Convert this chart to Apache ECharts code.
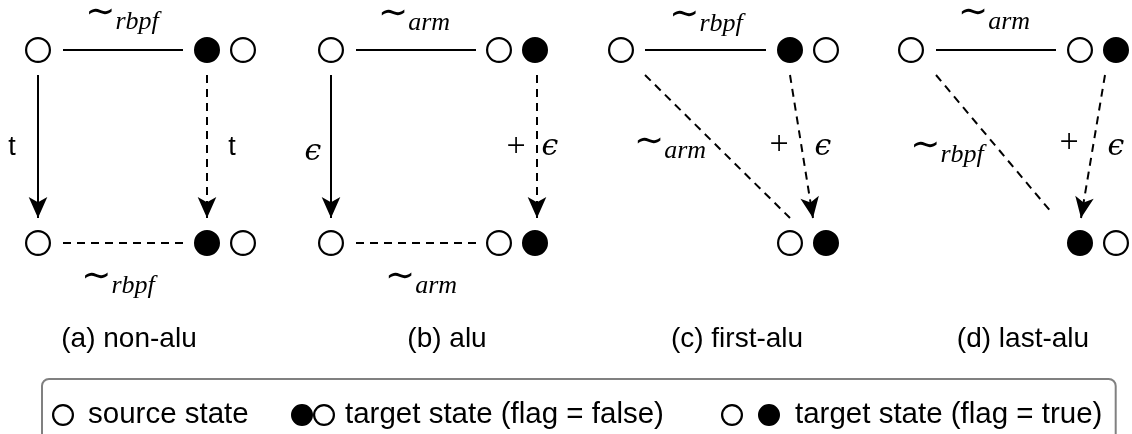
<!DOCTYPE html>
<html><head><meta charset="utf-8">
<script src="https://cdn.jsdelivr.net/npm/echarts@6/dist/echarts.min.js"></script>
<style>html,body{margin:0;padding:0;background:#fff}#c{width:1132px;height:434px}</style>
</head><body><div id="c"></div>
<script>
// ---- data (diagram coordinates) ----
const sourceStates = [[38,50],[38,243],[331,50],[331,243],[621,50],[911,50]];
const targetFalse  = [[207,50],[207,243],[790,50],[1080,243]];   // ● ○ (left circle)
const targetTrue   = [[499,50],[499,243],[790,243],[1080,50]];   // ○ ● (left circle)
const solidEdges   = [[[63,50],[183,50]],[[356,50],[476,50]],[[645,50],[766,50]],[[936,50],[1056,50]]];
const dashedEdges  = [[[63,243],[183,243]],[[356,243],[476,243]],[[645,75],[790,218]],[[936,75],[1052,213]]];
const solidArrows  = [[[38,75],[38,218]],[[331,75],[331,218]]];
const dashedArrows = [[[207,75],[207,218]],[[537,75],[537,218]],[[790,75],[813,218]],[[1105,75],[1081,218]]];
const relLabels    = [[122,21,'rbpf'],[118,285,'rbpf'],[414,22,'arm'],[421,285,'arm'],[706,23,'rbpf'],[670,150,'arm'],[994,21,'arm'],[947,154,'rbpf']];
const plainLabels  = [[12,148,'t'],[232,148,'t']];
const plusLabels   = [[516,147,'+'],[779,145,'+'],[1069,143,'+']];
const epsLabels    = [[313,152,'ϵ'],[550,147,'ϵ'],[823,147,'ϵ'],[1116,147,'ϵ']];
const captions     = [[129,339,'(a) non-alu'],[447,339,'(b) alu'],[737,339,'(c) first-alu'],[1023,339,'(d) last-alu']];
const legendNames  = ['source state','target state (flag = false)','target state (flag = true)'];

// ---- symbol shapes ----
function disk(cx, r){ return `M${cx-r},${r}A${r},${r},0,1,1,${cx+r},${r}A${r},${r},0,1,1,${cx-r},${r}Z`; }
function ring(cx, r, w){ const q=r-w; return disk(cx,r)+`M${cx-q},${r}A${q},${q},0,1,0,${cx+q},${r}A${q},${q},0,1,0,${cx-q},${r}Z`; }
const R=13, W=2.2, GAP=36;
const srcSym   = 'path://'+ring(R,R,W);
const falseSym = 'path://'+disk(R,R)+ring(R+GAP,R,W);
const trueSym  = 'path://'+ring(R,R,W)+disk(R+GAP,R);
const LR=11, LW=2.2;
const lgSrc   = 'path://'+ring(LR,LR,LW);
const lgFalse = 'path://'+disk(LR,LR)+ring(LR+22,LR,LW);
const lgTrue  = 'path://'+ring(LR,LR,LW)+disk(LR+37,LR);

const black = '#000';
const chart = echarts.init(document.getElementById('c'), null, {renderer:'canvas'});
const toLines = arr => arr.map(c => ({coords:c}));
const toPts = arr => arr.map(d => ({value:[d[0],d[1]], name:d[2]}));
const legendText = {fontFamily:'Liberation Sans', fontSize:29.5, color:black, lineHeight:22};
const txtItem = {color:'transparent', opacity:1};

chart.setOption({
  animation:false,
  textStyle:{fontFamily:'Liberation Sans'},
  grid:{left:0,right:0,top:0,bottom:0,containLabel:false},
  xAxis:{type:'value',min:0,max:1132,show:false},
  yAxis:{type:'value',min:0,max:434,inverse:true,show:false},
  legend:[
    {left:42, top:379, padding:[21,867,14,10], itemWidth:22, itemHeight:22, selectedMode:false,
     borderColor:'#808080', borderWidth:2, borderRadius:7,
     data:[{name:legendNames[0], icon:lgSrc}], textStyle:Object.assign({padding:[0,0,0,9]},legendText)},
    {left:291, top:400, padding:0, itemWidth:44, itemHeight:22, selectedMode:false,
     data:[{name:legendNames[1], icon:lgFalse}], textStyle:Object.assign({padding:[0,0,0,5]},legendText)},
    {left:721, top:400, padding:0, itemWidth:59, itemHeight:22, selectedMode:false,
     data:[{name:legendNames[2], icon:lgTrue}], textStyle:Object.assign({padding:[0,0,0,10]},legendText)}
  ],
  series:[
    {type:'lines', coordinateSystem:'cartesian2d', silent:true, symbol:'none',
     lineStyle:{color:black,width:2,type:'solid',opacity:1,curveness:0}, data:toLines(solidEdges)},
    {type:'lines', coordinateSystem:'cartesian2d', silent:true, symbol:'none',
     lineStyle:{color:black,width:2,type:[8,6],opacity:1,curveness:0}, data:toLines(dashedEdges)},
    {type:'lines', coordinateSystem:'cartesian2d', silent:true, symbol:['none','arrow'], symbolSize:[1,[14,21]],
     lineStyle:{color:black,width:2,type:'solid',opacity:1,curveness:0}, data:toLines(solidArrows)},
    {type:'lines', coordinateSystem:'cartesian2d', silent:true, symbol:['none','arrow'], symbolSize:[1,[14,21]],
     lineStyle:{color:black,width:2,type:[8,6],opacity:1,curveness:0}, data:toLines(dashedArrows)},
    {name:legendNames[0], type:'scatter', silent:true, symbol:srcSym, symbolSize:[26,26],
     itemStyle:{color:black,borderWidth:0,opacity:1}, data:sourceStates},
    {name:legendNames[1], type:'scatter', silent:true, symbol:falseSym, symbolSize:[26+GAP,26], symbolOffset:[GAP/2,0],
     itemStyle:{color:black,borderWidth:0,opacity:1}, data:targetFalse},
    {name:legendNames[2], type:'scatter', silent:true, symbol:trueSym, symbolSize:[26+GAP,26], symbolOffset:[GAP/2,0],
     itemStyle:{color:black,borderWidth:0,opacity:1}, data:targetTrue},
    {type:'scatter', silent:true, symbolSize:0, itemStyle:txtItem, data:toPts(relLabels),
     label:{show:true, position:'inside', offset:[0,-7], formatter:p=>'{t|∼}{s|'+p.name+'}',
       rich:{t:{fontFamily:'DejaVu Sans',fontSize:36,color:black},
             s:{fontFamily:'Liberation Serif',fontStyle:'italic',fontSize:26,color:black,padding:[16,0,0,0]}}}},
    {type:'scatter', silent:true, symbolSize:0, itemStyle:txtItem, data:toPts(plainLabels),
     label:{show:true, position:'inside', formatter:p=>p.name, fontFamily:'Liberation Sans', fontSize:27, color:black}},
    {type:'scatter', silent:true, symbolSize:0, itemStyle:txtItem, data:toPts(plusLabels),
     label:{show:true, position:'inside', formatter:p=>p.name, fontFamily:'Liberation Serif', fontSize:34, color:black}},
    {type:'scatter', silent:true, symbolSize:0, itemStyle:txtItem, data:toPts(epsLabels),
     label:{show:true, position:'inside', formatter:p=>p.name, fontFamily:'DejaVu Serif', fontStyle:'italic', fontSize:30, color:black}},
    {type:'scatter', silent:true, symbolSize:0, itemStyle:txtItem, data:toPts(captions),
     label:{show:true, position:'inside', formatter:p=>p.name, fontFamily:'Liberation Sans', fontSize:28, color:black}}
  ]
});
</script></body></html>
